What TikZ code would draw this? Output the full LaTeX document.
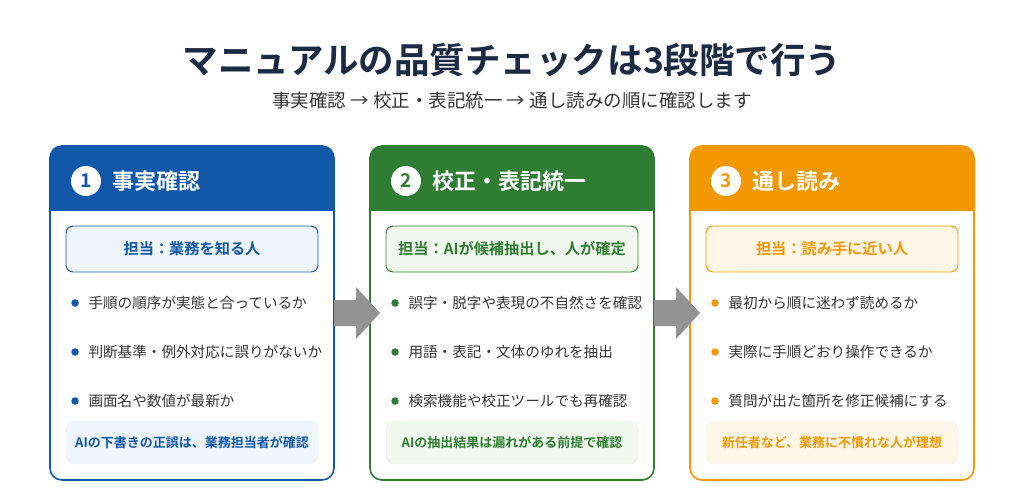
\documentclass[tikz,border=0pt]{standalone}
\usepackage{fontspec}
\setmainfont{Noto Sans CJK JP}
\newfontfamily\jpb{Noto Sans CJK JP Bold}
\definecolor{cb}{HTML}{1159A8}\definecolor{lb}{HTML}{EEF5FC}
\definecolor{cg}{HTML}{2E7D32}\definecolor{lg}{HTML}{F1F8EE}
\definecolor{co}{HTML}{F39800}\definecolor{lo}{HTML}{FFF6E8}
\definecolor{navy}{HTML}{1C2B44}\definecolor{txt}{HTML}{333333}
\begin{document}
\begin{tikzpicture}[x=1pt,y=-1pt,
 card/.style={draw=#1,line width=1.6pt,rounded corners=12pt},
 role/.style={draw=#1,line width=0.9pt,rounded corners=7pt},
 bul/.style={anchor=west,font=\fontsize{14.6}{16}\selectfont,text=txt},
 dot/.style={circle,fill=#1,inner sep=0,minimum size=7.5pt},
 arr/.style={fill=gray!85}]
\useasboundingbox (0,0) rectangle (1024,494);
\node[font=\jpb\fontsize{35.5}{38}\selectfont,text=navy] (title) at (512,60) {マニュアルの品質チェックは3段階で行う};
\node[font=\fontsize{18.5}{20}\selectfont,text=txt] (sub) at (512,101) {事実確認 → 校正・表記統一 → 通し読みの順に確認します};
\foreach \i/\x/\c/\l/\h/\r/\a/\b/\d/\n in {
 1/50/cb/lb/事実確認/担当：業務を知る人/手順の順序が実態と合っているか/判断基準・例外対応に誤りがないか/画面名や数値が最新か/AIの下書きの正誤は、業務担当者が確認,
 2/370/cg/lg/校正・表記統一/担当：AIが候補抽出し、人が確定/誤字・脱字や表現の不自然さを確認/用語・表記・文体のゆれを抽出/検索機能や校正ツールでも再確認/AIの抽出結果は漏れがある前提で確認,
 3/690/co/lo/通し読み/担当：読み手に近い人/最初から順に迷わず読めるか/実際に手順どおり操作できるか/質問が出た箇所を修正候補にする/新任者など、業務に不慣れな人が理想}{
 \begin{scope}
 \clip[rounded corners=12pt] (\x,146) rectangle ++(284,334);
 \fill[\c] (\x,146) rectangle ++(284,65);
 \end{scope}
 \draw[card=\c] (\x,146) rectangle ++(284,334);
 \node[circle,fill=white,minimum size=30pt,inner sep=0,font=\jpb\fontsize{19}{20}\selectfont,text=\c] (n\i) at (\x+36,181) {\i};
 \node[anchor=west,font=\jpb\fontsize{22}{23}\selectfont,text=white] (h\i) at (\x+59,181) {\h};
 \draw[role=\c,fill=\l] (\x+16,226) rectangle ++(252,46);
 \node[font=\jpb\fontsize{15.2}{16}\selectfont,text=\c] (r\i) at (\x+142,249) {\r};
 \foreach \t/\y in {\a/303,\b/352,\d/401}{
  \node[dot=\c] at (\x+25,\y) {};
  \node[bul] at (\x+35,\y) {\t};}
 \fill[\l,draw=gray!12,rounded corners=8pt] (\x+16,421) rectangle ++(252,43);
 \node[font=\jpb\fontsize{13}{14}\selectfont,text=\c] (m\i) at (\x+142,442) {\n};
}
\foreach \x in {334,654}{
 \fill[arr] (\x,300) -- (\x+22,300) -- (\x+22,287) -- (\x+46,313) -- (\x+22,339) -- (\x+22,326) -- (\x,326) -- cycle;}
\end{tikzpicture}
\end{document}
